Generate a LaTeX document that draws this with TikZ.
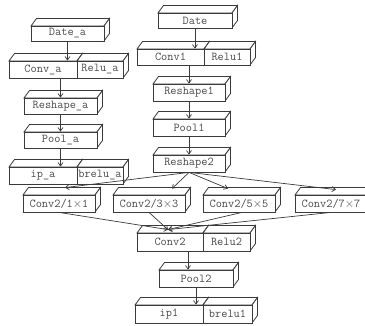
\documentclass[tikz,border=0pt]{standalone}
\usepackage{fontspec}
\usetikzlibrary{arrows.meta,calc}
\definecolor{edge}{HTML}{3A3A3A}
\definecolor{ink}{HTML}{4A4A4A}
\tikzset{
  face/.style={draw=edge, fill=white, line width=0.8pt, line join=miter},
  front/.style={face, inner sep=0pt, text=ink,
    font=\ttfamily\fontsize{12}{12}\selectfont},
  link/.style={draw=edge, line width=0.7pt,
    -{Straight Barb[length=3.5pt,width=5pt]}},
}
% 3D block: name, left, top, right, bottom (front face), label
\newcommand\blockbox[6]{%
  \draw[face] (#2,#3) -- (#2+5.5,#3-7.5) -- (#4+5.5,#3-7.5) -- (#4,#3) -- cycle;
  \draw[face] (#4,#3) -- (#4+5.5,#3-7.5) -- (#4+5.5,#5-7.5) -- (#4,#5) -- cycle;
  \node[front, minimum width={(#4-#2)*1pt}, minimum height={(#5-#3)*1pt}]
    (#1) at ({(#2+#4)/2},{(#3+#5)/2}) {#6};
}
\begin{document}
\begin{tikzpicture}[x=1pt, y=-1pt]
  \useasboundingbox (0,0) rectangle (365,326);
  \clip (0,0) rectangle (365,326);

  % left branch
  \blockbox{datea}{31}{26}{104}{41}{Date\_a}
  \blockbox{conva}{9}{61}{77}{78}{Conv\_a}
  \blockbox{relua}{77}{61}{123}{78}{Relu\_a}
  \blockbox{reshapea}{24}{98}{97}{114}{Reshape\_a}
  \blockbox{poola}{24}{132}{97}{148}{Pool\_a}
  \blockbox{ipa}{9}{167}{77}{184}{ip\_a}
  \blockbox{brelua}{77}{167}{123}{184}{brelu\_a}

  % main branch
  \blockbox{date}{158}{13}{232}{28}{Date}
  \blockbox{convone}{137}{49}{204}{65}{Conv1}
  \blockbox{reluone}{204}{49}{250}{65}{Relu1}
  \blockbox{reshapeone}{153}{84}{225}{101}{Reshape1}
  \blockbox{poolone}{153}{119}{225}{136}{Pool1}
  \blockbox{reshapetwo}{153}{155}{225}{172}{Reshape2}

  % parallel convolutions
  \blockbox{ca}{23}{195}{95}{212}{Conv2/1$\times$1}
  \blockbox{cb}{113}{195}{185}{212}{Conv2/3$\times$3}
  \blockbox{cc}{203}{195}{275}{212}{Conv2/5$\times$5}
  \blockbox{cd}{295}{195}{367}{212}{Conv2/7$\times$7}

  \blockbox{convtwo}{137}{233}{203}{251}{Conv2}
  \blockbox{relutwo}{203}{233}{250}{251}{Relu2}
  \blockbox{pooltwo}{159}{270}{233}{287}{Pool2}
  \blockbox{ipone}{135}{305}{203}{323}{ip1}
  \blockbox{breluone}{203}{305}{252}{323}{brelu1}

  % vertical links
  \draw[link] (datea.south) -- (datea.south |- conva.north);
  \draw[link] (reshapea.north |- conva.south) -- (reshapea.north);
  \draw[link] (reshapea.south) -- (poola.north);
  \draw[link] (poola.south) -- (poola.south |- ipa.north);
  \draw[link] (date.south) -- (date.south |- convone.north);
  \draw[link] (reshapeone.north |- convone.south) -- (reshapeone.north);
  \draw[link] (reshapeone.south) -- (poolone.north);
  \draw[link] (poolone.south) -- (reshapetwo.north);
  \draw[link] ([xshift=18pt]convtwo.south) -- ([xshift=18pt]convtwo.south |- pooltwo.north);
  \draw[link] (pooltwo.south) -- (pooltwo.south |- ipone.north);

  % fan out
  \draw[link] (reshapetwo.south) -- ([xshift=6pt,yshift=7pt]ca.north);
  \draw[link] (reshapetwo.south) -- ([xshift=23pt,yshift=6pt]cb.north);
  \draw[link] (reshapetwo.south) -- ([xshift=-11pt,yshift=6pt]cc.north);
  \draw[link] (reshapetwo.south) -- ([xshift=5pt,yshift=5pt]cd.north);

  % fan in
  \coordinate (join) at ([xshift=-2pt,yshift=3pt]convtwo.north);
  \draw[link] (ca.south) -- (join);
  \draw[link] (cb.south) -- (join);
  \draw[link] ([xshift=3pt]cc.south) -- (join);
  \draw[link] (cd.south) -- (join);
\end{tikzpicture}
\end{document}
